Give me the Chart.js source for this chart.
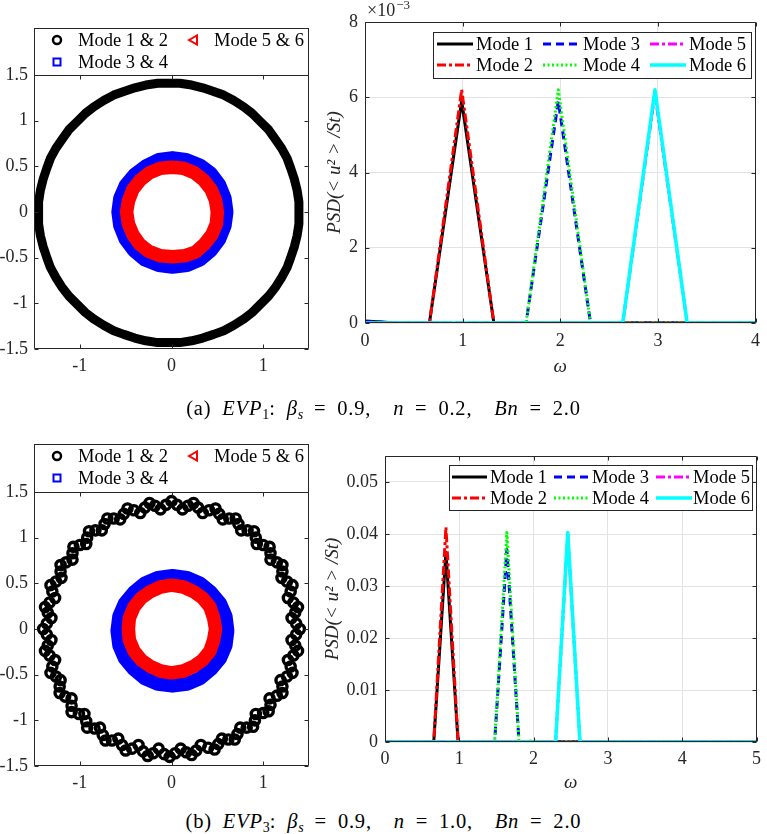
<!DOCTYPE html>
<html><head><meta charset="utf-8">
<script src="https://cdn.jsdelivr.net/npm/chart.js@4.4.0/dist/chart.umd.min.js"></script>
<style>
html,body{margin:0;padding:0;background:#fff;}
#wrap{position:relative;width:767px;height:834px;overflow:hidden;background:#fff;}
canvas{position:absolute;}
.cap{position:absolute;left:0;width:767px;text-align:center;font-family:"Liberation Serif",serif;font-size:20.5px;letter-spacing:0.8px;word-spacing:5px;color:#000;line-height:22px;white-space:nowrap;}
.cap sub{font-size:14px;vertical-align:-4px;line-height:0;letter-spacing:0;}
</style></head><body>
<div id="wrap">
<canvas id="c1" width="330" height="380" style="left:0;top:0"></canvas>
<canvas id="c2" width="452" height="380" style="left:315px;top:0"></canvas>
<canvas id="c3" width="330" height="380" style="left:0;top:420px"></canvas>
<canvas id="c4" width="452" height="380" style="left:315px;top:420px"></canvas>
<div class="cap" style="top:397px">(a) <i>EVP</i><sub>1</sub>: <i>β<sub>s</sub></i> = 0.9, &nbsp;<i>n</i> = 0.2, &nbsp;<i>Bn</i> = 2.0</div>
<div class="cap" style="top:810px">(b) <i>EVP</i><sub>3</sub>: <i>β<sub>s</sub></i> = 0.9, &nbsp;<i>n</i> = 1.0, &nbsp;<i>Bn</i> = 2.0</div>
</div>
<script>
// ---------- tick values ----------
const scatterXTicks = [-1, 0, 1];
const scatterYTicks = [-1.5, -1, -0.5, 0, 0.5, 1, 1.5];
const psdXTicksA = [0, 1, 2, 3, 4];
const psdYTicksA = [0, 0.002, 0.004, 0.006, 0.008];
const psdXTicksB = [0, 1, 2, 3, 4, 5];
const psdYTicksB = [0, 0.01, 0.02, 0.03, 0.04, 0.05];

// ---------- (a) phase portraits ----------
const ringA_m12_x = [1.39,1.39,1.37,1.34,1.30,1.26,1.20,1.13,1.06,0.97,0.88,0.79,0.68,0.57,0.46,0.34,0.22,0.09,
  -0.03,-0.15,-0.28,-0.40,-0.52,-0.63,-0.74,-0.85,-0.94,-1.03,-1.12,-1.19,-1.26,-1.32,-1.36,-1.40,-1.43,-1.45,
  -1.45,-1.45,-1.43,-1.40,-1.36,-1.32,-1.26,-1.19,-1.12,-1.03,-0.94,-0.85,-0.74,-0.63,-0.52,-0.40,-0.28,-0.15,
  -0.03,0.09,0.22,0.34,0.46,0.57,0.68,0.79,0.88,0.97,1.06,1.13,1.20,1.26,1.30,1.34,1.37,1.39,1.39];
const ringA_m12_y = [-0.01,0.11,0.24,0.36,0.48,0.59,0.70,0.80,0.90,0.99,1.08,1.15,1.22,1.28,1.32,1.36,1.39,1.41,
  1.41,1.41,1.39,1.36,1.32,1.28,1.22,1.15,1.08,0.99,0.90,0.80,0.70,0.59,0.48,0.36,0.24,0.11,
  -0.01,-0.13,-0.26,-0.38,-0.50,-0.61,-0.72,-0.83,-0.92,-1.01,-1.10,-1.17,-1.24,-1.30,-1.34,-1.38,-1.41,-1.43,
  -1.43,-1.43,-1.41,-1.38,-1.34,-1.30,-1.24,-1.17,-1.10,-1.01,-0.92,-0.83,-0.72,-0.61,-0.50,-0.38,-0.26,-0.13,-0.01];
const ringA_m34_x = [0.60,0.58,0.52,0.43,0.31,0.16,0.01,-0.14,-0.28,-0.40,-0.50,-0.56,-0.58,-0.56,-0.50,-0.41,-0.29,-0.14,0.01,0.17,0.31,0.43,0.52,0.58,0.60];
const ringA_m34_y = [0.00,0.15,0.30,0.42,0.51,0.57,0.59,0.57,0.50,0.41,0.29,0.15,0.00,-0.15,-0.30,-0.42,-0.52,-0.58,-0.60,-0.58,-0.52,-0.42,-0.30,-0.15,0.00];
const ringA_m56_x = [0.50,0.48,0.43,0.35,0.25,0.13,0.01,-0.12,-0.24,-0.34,-0.42,-0.47,-0.49,-0.47,-0.42,-0.35,-0.25,-0.12,0.01,0.14,0.26,0.36,0.44,0.49,0.50];
const ringA_m56_y = [0.00,0.13,0.25,0.35,0.43,0.48,0.49,0.48,0.43,0.35,0.25,0.12,0.00,-0.13,-0.25,-0.35,-0.43,-0.48,-0.49,-0.48,-0.44,-0.35,-0.25,-0.13,0.00];

// ---------- (b) phase portraits ----------
const ringB_m12_x = [1.40,1.31,1.38,1.27,1.32,1.20,1.21,1.08,1.07,0.93,0.90,0.76,0.70,0.56,0.48,0.34,0.24,0.12,
  0.00,-0.12,-0.24,-0.34,-0.48,-0.56,-0.70,-0.76,-0.90,-0.93,-1.07,-1.08,-1.21,-1.20,-1.32,-1.27,-1.38,-1.31,
  -1.40,-1.31,-1.38,-1.27,-1.32,-1.21,-1.22,-1.09,-1.09,-0.95,-0.92,-0.78,-0.72,-0.58,-0.50,-0.36,-0.26,-0.14,
  -0.02,0.10,0.22,0.32,0.47,0.55,0.69,0.75,0.89,0.92,1.06,1.07,1.21,1.19,1.32,1.27,1.38,1.31,
  1.36,1.35,1.33,1.30,1.26,1.21,1.15,1.08,1.00,0.92,0.83,0.73,0.63,0.52,0.41,0.29,0.18,0.06,
  -0.06,-0.18,-0.29,-0.41,-0.52,-0.63,-0.73,-0.83,-0.92,-1.00,-1.08,-1.15,-1.21,-1.26,-1.30,-1.33,-1.35,-1.36,
  -1.36,-1.35,-1.33,-1.30,-1.26,-1.22,-1.16,-1.09,-1.01,-0.93,-0.84,-0.75,-0.65,-0.54,-0.43,-0.31,-0.20,-0.08,
  0.04,0.16,0.27,0.40,0.51,0.62,0.72,0.82,0.91,1.00,1.08,1.15,1.21,1.26,1.30,1.33,1.35,1.36];
const ringB_m12_y = [0.00,0.12,0.24,0.34,0.48,0.56,0.70,0.76,0.90,0.93,1.07,1.08,1.21,1.20,1.32,1.27,1.38,1.31,
  1.40,1.31,1.38,1.27,1.32,1.20,1.21,1.08,1.07,0.93,0.90,0.76,0.70,0.56,0.48,0.34,0.24,0.12,
  0.00,-0.12,-0.24,-0.34,-0.48,-0.56,-0.70,-0.76,-0.91,-0.93,-1.08,-1.08,-1.22,-1.20,-1.33,-1.27,-1.39,-1.31,
  -1.40,-1.31,-1.38,-1.27,-1.32,-1.20,-1.21,-1.08,-1.07,-0.93,-0.90,-0.76,-0.70,-0.56,-0.48,-0.34,-0.24,-0.12,
  0.06,0.18,0.29,0.41,0.52,0.63,0.73,0.83,0.92,1.00,1.08,1.15,1.21,1.26,1.30,1.33,1.35,1.36,
  1.36,1.35,1.33,1.30,1.26,1.21,1.15,1.08,1.00,0.92,0.83,0.73,0.63,0.52,0.41,0.29,0.18,0.06,
  -0.06,-0.18,-0.29,-0.41,-0.52,-0.63,-0.74,-0.84,-0.93,-1.01,-1.09,-1.16,-1.22,-1.27,-1.31,-1.34,-1.36,-1.37,
  -1.36,-1.35,-1.33,-1.30,-1.26,-1.21,-1.15,-1.08,-1.00,-0.92,-0.83,-0.73,-0.63,-0.52,-0.41,-0.29,-0.18,-0.06];
const ringB_m34_x = [0.61,0.59,0.53,0.43,0.31,0.17,0.01,-0.15,-0.29,-0.41,-0.51,-0.57,-0.59,-0.57,-0.51,-0.41,-0.29,-0.15,0.01,0.17,0.31,0.43,0.53,0.59,0.61];
const ringB_m34_y = [-0.02,0.14,0.28,0.40,0.50,0.56,0.58,0.56,0.50,0.40,0.28,0.14,-0.02,-0.18,-0.32,-0.44,-0.54,-0.60,-0.62,-0.60,-0.54,-0.44,-0.32,-0.18,-0.02];
const ringB_m56_x = [0.48,0.46,0.42,0.34,0.24,0.13,0.00,-0.12,-0.23,-0.33,-0.41,-0.46,-0.47,-0.46,-0.41,-0.33,-0.23,-0.12,0.00,0.13,0.24,0.34,0.42,0.46,0.48];
const ringB_m56_y = [0.00,0.12,0.24,0.34,0.41,0.46,0.48,0.46,0.41,0.34,0.24,0.12,0.00,-0.12,-0.24,-0.34,-0.41,-0.46,-0.48,-0.46,-0.41,-0.34,-0.24,-0.12,0.00];

// ---------- (a) PSD ----------
const omegaA = [0, 0.33, 0.66, 0.99, 1.32, 1.65, 1.98, 2.31, 2.64, 2.97, 3.30, 3.63, 3.96, 4.29];
const psdA_mode1 = [0.00005,0,0,0.0059,0,0,0,0,0,0,0,0,0,0];
const psdA_mode2 = [0,0,0,0.0062,0,0,0,0,0,0,0,0,0,0];
const psdA_mode3 = [0.00004,0,0,0,0,0,0.0059,0,0,0,0,0,0,0];
const psdA_mode4 = [0,0,0,0,0,0,0.0062,0,0,0,0,0,0,0];
const psdA_mode5 = [0,0,0,0,0,0,0,0,0,0.0061,0,0,0,0];
const psdA_mode6 = [0,0,0,0,0,0,0,0,0,0.0062,0,0,0,0];

// ---------- (b) PSD ----------
const omegaB = [0, 0.492, 0.656, 0.82, 0.984, 1.312, 1.476, 1.64, 1.804, 1.968, 2.132, 2.296, 2.46, 2.624, 2.788, 5.084];
const psdB_mode1 = [0,0,0,0.0365,0,0,0,0,0,0,0,0,0,0,0,0];
const psdB_mode2 = [0,0,0,0.0413,0,0,0,0,0,0,0,0,0,0,0,0];
const psdB_mode3 = [0,0,0,0,0,0,0,0.0370,0,0,0,0,0,0,0,0];
const psdB_mode4 = [0,0,0,0,0,0,0,0.0403,0,0.0002,0,0,0,0,0,0];
const psdB_mode5 = [0,0,0,0,0,0,0,0,0,0,0,0,0.0400,0,0,0];
const psdB_mode6 = [0,0,0,0,0,0,0,0,0,0,0,0,0.0403,0,0,0];

const modeLabels = ['Mode 1','Mode 2','Mode 3','Mode 4','Mode 5','Mode 6'];
const pairLabels = ['Mode 1 & 2','Mode 3 & 4','Mode 5 & 6'];

// ---------- helpers ----------
const pts = (xs, ys) => xs.map((x, i) => ({x: x, y: ys[i]}));
const FONT = '"Liberation Serif", "Times New Roman", serif';
Chart.defaults.font.family = FONT;
Chart.defaults.color = '#262626';
const AX = '#262626';

const matlabPlugin = {
  id: 'matlab',
  afterDatasetsDraw(chart, args, opts) {
    const {ctx, chartArea: a, scales} = chart;
    const x = scales.x, y = scales.y;
    ctx.save();
    ctx.setLineDash([]);
    ctx.strokeStyle = AX; ctx.lineWidth = 1;
    const L = Math.round(a.left) + 0.5, R = Math.round(a.right) - 0.5;
    const T = Math.round(a.top) + 0.5, B = Math.round(a.bottom) - 0.5;
    ctx.beginPath();
    ctx.rect(L, T, R - L, B - T);
    const tl = 4;
    x.ticks.forEach(t => {
      const px = Math.round(x.getPixelForValue(t.value)) + 0.5;
      ctx.moveTo(px, B); ctx.lineTo(px, B - tl);
      ctx.moveTo(px, T); ctx.lineTo(px, T + tl);
    });
    y.ticks.forEach(t => {
      const py = Math.round(y.getPixelForValue(t.value)) + 0.5;
      ctx.moveTo(L, py); ctx.lineTo(L + tl, py);
      ctx.moveTo(R, py); ctx.lineTo(R - tl, py);
    });
    ctx.stroke();
    ctx.restore();
  },
  afterDraw(chart, args, opts) {
    const ctx = chart.ctx;
    const lg = opts.legend;
    ctx.save();
    if (opts.exponent) {
      const a = chart.chartArea;
      ctx.fillStyle = AX; ctx.textBaseline = 'alphabetic'; ctx.textAlign = 'left';
      ctx.font = '18px ' + FONT;
      ctx.fillText('×10', a.left + 2, 16);
      const w = ctx.measureText('×10').width;
      ctx.font = '13px ' + FONT;
      ctx.fillText('−3', a.left + 3 + w, 9);
    }
    if (lg) {
      ctx.fillStyle = '#fff';
      ctx.fillRect(lg.x, lg.y, lg.w, lg.h);
      ctx.strokeStyle = AX; ctx.lineWidth = 1; ctx.setLineDash([]);
      ctx.strokeRect(lg.x + 0.5, lg.y + 0.5, lg.w - 1, lg.h - 1);
      ctx.font = '18.5px ' + FONT;
      ctx.textBaseline = 'middle'; ctx.textAlign = 'left';
      lg.items.forEach(it => {
        const ds = chart.data.datasets[it.ds];
        const cy = lg.y + it.ry;
        ctx.save();
        ctx.strokeStyle = ds.borderColor;
        if (it.line) {
          ctx.lineWidth = ds.borderWidth;
          ctx.setLineDash(ds.borderDash || []);
          ctx.beginPath();
          ctx.moveTo(lg.x + it.line[0], cy); ctx.lineTo(lg.x + it.line[1], cy);
          ctx.stroke();
        } else {
          const mx = lg.x + it.mx;
          ctx.setLineDash([]);
          ctx.beginPath();
          if (it.marker === 'circle') { ctx.lineWidth = 2.5; ctx.arc(mx, cy, 4, 0, Math.PI * 2); }
          else if (it.marker === 'square') { ctx.lineWidth = 2; ctx.rect(mx - 3.5, cy - 3.5, 7, 7); }
          else { ctx.lineWidth = 2; ctx.moveTo(mx - 4, cy); ctx.lineTo(mx + 4, cy - 4.5); ctx.lineTo(mx + 4, cy + 4.5); ctx.closePath(); }
          ctx.stroke();
        }
        ctx.restore();
        ctx.fillStyle = '#000';
        ctx.fillText(ds.label, lg.x + it.tx, cy + 1);
      });
    }
    ctx.restore();
  }
};

function linScale(min, max, tickVals, fmt, pad, fitProp, fitVal, title) {
  const s = {
    type: 'linear', min: min, max: max,
    grid: {display: !!title && title.grid, drawTicks: false, color: '#e3e3e3', lineWidth: 1},
    border: {display: false},
    ticks: {padding: pad, color: AX, font: {size: 18}, callback: fmt, maxRotation: 0, autoSkip: false},
    afterBuildTicks: sc => { sc.ticks = tickVals.map(v => ({value: v})); },
    afterFit: sc => { sc[fitProp] = fitVal; }
  };
  if (title && title.text) {
    s.title = {display: true, text: title.text, color: AX,
      font: {size: title.size, style: 'italic'}, padding: title.padding};
  }
  return s;
}

function ringLine(label, data, color, width, order) {
  return {label: label, data: data, showLine: true, pointRadius: 0, borderWidth: width,
    borderColor: color, backgroundColor: color, order: order, clip: false, tension: 0,
    borderCapStyle: 'round', borderJoinStyle: 'round'};
}

function scatterChart(id, padTop, xH, lgY, m12, m34, m56, m12AsPoints) {
  const ds12 = m12AsPoints
    ? {label: pairLabels[0], data: m12, showLine: false, pointStyle: 'circle', pointRadius: 4.6, borderWidth: 3.4,
       borderColor: '#000000', backgroundColor: 'rgba(0,0,0,0)', order: 3, clip: false}
    : ringLine(pairLabels[0], m12, '#000000', 9, 3);
  return new Chart(document.getElementById(id), {
    type: 'scatter',
    data: {datasets: [
      ds12,
      ringLine(pairLabels[1], m34, '#0000ff', 14, 2),
      ringLine(pairLabels[2], m56, '#ff0000', 13.5, 1)
    ]},
    options: {
      responsive: false, animation: false, events: [],
      layout: {padding: {top: padTop, right: 21, left: 0, bottom: 0}},
      plugins: {legend: {display: false}, tooltip: {enabled: false},
        matlab: {legend: {x: 34, y: lgY, w: 275, h: padTop - lgY + 1, items: [
          {ds: 0, marker: 'circle', mx: 23, tx: 44, ry: 12},
          {ds: 2, marker: 'tri', mx: 159, tx: 180, ry: 12},
          {ds: 1, marker: 'square', mx: 23, tx: 44, ry: 34}
        ]}}},
      scales: {
        x: linScale(-1.5, 1.5, scatterXTicks, v => String(v), 6, 'height', xH, null),
        y: linScale(-1.5, 1.5, scatterYTicks, v => String(v), 6, 'width', 34, null)
      }
    },
    plugins: [matlabPlugin]
  });
}

function psdDatasets(omega, series) {
  const styles = [
    {c: '#000000', w: 3, d: []},
    {c: '#ff0000', w: 3, d: [9, 3, 3, 3]},
    {c: '#0000ff', w: 3, d: [8, 5]},
    {c: '#00ff00', w: 3, d: [2, 2.5]},
    {c: '#ff00ff', w: 3, d: [9, 3, 3, 3]},
    {c: '#00ffff', w: 3.5, d: []}
  ];
  return series.map((vals, i) => ({
    label: modeLabels[i], data: pts(omega, vals), showLine: true, pointRadius: 0,
    borderColor: styles[i].c, backgroundColor: styles[i].c, borderWidth: styles[i].w,
    borderDash: styles[i].d, order: 6 - i, tension: 0, borderJoinStyle: 'round'
  }));
}

function psdChart(id, omega, series, xMax, yMax, xt, yt, yFmt, padTop, yW, xH, titlePadY, titlePadX, tickPadY, tickPadX, lg, exponent) {
  return new Chart(document.getElementById(id), {
    type: 'scatter',
    data: {datasets: psdDatasets(omega, series)},
    options: {
      responsive: false, animation: false, events: [],
      layout: {padding: {top: padTop, right: 4, left: 0, bottom: 0}},
      plugins: {legend: {display: false}, tooltip: {enabled: false}, matlab: {legend: lg, exponent: exponent}},
      scales: {
        x: linScale(0, xMax, xt, v => String(v), tickPadX, 'height', xH,
             {grid: true, text: 'ω', size: 19, padding: {top: 0, bottom: titlePadX}}),
        y: linScale(0, yMax, yt, yFmt, tickPadY, 'width', yW,
             {grid: true, text: 'PSD(< u² > /St)', size: 19, padding: {top: titlePadY, bottom: 0}})
      }
    },
    plugins: [matlabPlugin]
  });
}

// ---------- build ----------
scatterChart('c1', 75, 31, 28,
  pts(ringA_m12_x, ringA_m12_y), pts(ringA_m34_x, ringA_m34_y), pts(ringA_m56_x, ringA_m56_y), false);
scatterChart('c3', 72, 34, 24,
  pts(ringB_m12_x, ringB_m12_y), pts(ringB_m34_x, ringB_m34_y), pts(ringB_m56_x, ringB_m56_y), true);

const legendItemsA = [
  {ds: 0, line: [4, 40], tx: 43, ry: 12}, {ds: 1, line: [4, 40], tx: 43, ry: 33},
  {ds: 2, line: [110, 146], tx: 150, ry: 12}, {ds: 3, line: [110, 146], tx: 150, ry: 33},
  {ds: 4, line: [217, 253], tx: 256, ry: 12}, {ds: 5, line: [217, 253], tx: 256, ry: 33}
];
const legendItemsB = [
  {ds: 0, line: [3, 38], tx: 41, ry: 12}, {ds: 1, line: [3, 38], tx: 41, ry: 33},
  {ds: 2, line: [105, 140], tx: 143, ry: 12}, {ds: 3, line: [105, 140], tx: 143, ry: 33},
  {ds: 4, line: [207, 243], tx: 244, ry: 12}, {ds: 5, line: [207, 243], tx: 244, ry: 33}
];

psdChart('c2', omegaA, [psdA_mode1, psdA_mode2, psdA_mode3, psdA_mode4, psdA_mode5, psdA_mode6],
  4, 0.008, psdXTicksA, psdYTicksA, v => String(Math.round(v * 1000)),
  22, 50, 57, 9, 2, 7, 7,
  {x: 118, y: 32, w: 319, h: 47, items: legendItemsA}, true);

psdChart('c4', omegaB, [psdB_mode1, psdB_mode2, psdB_mode3, psdB_mode4, psdB_mode5, psdB_mode6],
  5, 0.055, psdXTicksB, psdYTicksB, v => (v === 0 ? '0' : v.toFixed(2)),
  36, 70, 58, 7, 6, 7, 6,
  {x: 134, y: 45, w: 304, h: 46, items: legendItemsB}, false);
</script>
</body></html>
